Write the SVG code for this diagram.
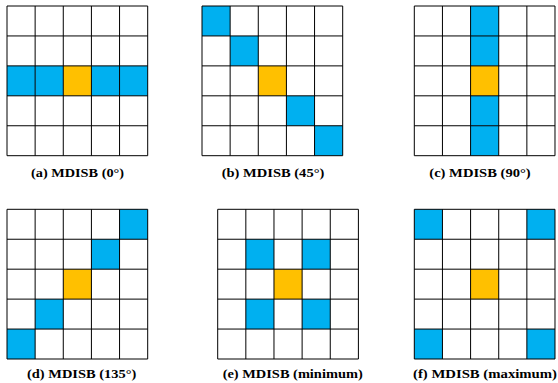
<svg xmlns="http://www.w3.org/2000/svg" xmlns:xlink="http://www.w3.org/1999/xlink" width="558" height="383" viewBox="0 0 558 383">
<style>
.b{fill:#00B0F0}
.o{fill:#FFC000}
.g{fill:none;stroke:#000;stroke-width:1}
.t{font-family:"Liberation Serif","Times New Roman",serif;font-weight:bold;font-size:12px;fill:#000}
</style>
<defs>
<path id="grid" class="g" d="M0,0H140.7V149.7H0Z M28.14,0V149.7 M56.28,0V149.7 M84.42,0V149.7 M112.56,0V149.7 M0,29.94H140.7 M0,59.88H140.7 M0,89.82H140.7 M0,119.76H140.7"/>
<rect id="c" width="28.14" height="29.94"/>
</defs>
<rect width="558" height="383" fill="#fff"/>
<g id="a">
<g transform="translate(7,6)">
<use xlink:href="#c" class="b" x="0" y="59.88"/>
<use xlink:href="#c" class="b" x="28.14" y="59.88"/>
<use xlink:href="#c" class="o" x="56.28" y="59.88"/>
<use xlink:href="#c" class="b" x="84.42" y="59.88"/>
<use xlink:href="#c" class="b" x="112.56" y="59.88"/>
<use xlink:href="#grid"/>
</g>
<text class="t" x="31" y="177" textLength="93" lengthAdjust="spacingAndGlyphs">(a) MDISB (0°)</text>
</g>
<g id="b">
<g transform="translate(202,6)">
<use xlink:href="#c" class="b" x="0" y="0"/>
<use xlink:href="#c" class="b" x="28.14" y="29.94"/>
<use xlink:href="#c" class="o" x="56.28" y="59.88"/>
<use xlink:href="#c" class="b" x="84.42" y="89.82"/>
<use xlink:href="#c" class="b" x="112.56" y="119.76"/>
<use xlink:href="#grid"/>
</g>
<text class="t" x="221.7" y="177" textLength="102.6" lengthAdjust="spacingAndGlyphs">(b) MDISB (45°)</text>
</g>
<g id="c-node">
<g transform="translate(414.3,6)">
<use xlink:href="#c" class="b" x="56.28" y="0"/>
<use xlink:href="#c" class="b" x="56.28" y="29.94"/>
<use xlink:href="#c" class="o" x="56.28" y="59.88"/>
<use xlink:href="#c" class="b" x="56.28" y="89.82"/>
<use xlink:href="#c" class="b" x="56.28" y="119.76"/>
<use xlink:href="#grid"/>
</g>
<text class="t" x="429.3" y="177" textLength="101.4" lengthAdjust="spacingAndGlyphs">(c) MDISB (90°)</text>
</g>
<g id="d">
<g transform="translate(7,209.3)">
<use xlink:href="#c" class="b" x="112.56" y="0"/>
<use xlink:href="#c" class="b" x="84.42" y="29.94"/>
<use xlink:href="#c" class="o" x="56.28" y="59.88"/>
<use xlink:href="#c" class="b" x="28.14" y="89.82"/>
<use xlink:href="#c" class="b" x="0" y="119.76"/>
<use xlink:href="#grid"/>
</g>
<text class="t" x="27" y="378" textLength="109.3" lengthAdjust="spacingAndGlyphs">(d) MDISB (135°)</text>
</g>
<g id="e">
<g transform="translate(217.7,209.3)">
<use xlink:href="#c" class="b" x="28.14" y="29.94"/>
<use xlink:href="#c" class="b" x="84.42" y="29.94"/>
<use xlink:href="#c" class="o" x="56.28" y="59.88"/>
<use xlink:href="#c" class="b" x="28.14" y="89.82"/>
<use xlink:href="#c" class="b" x="84.42" y="89.82"/>
<use xlink:href="#grid"/>
</g>
<text class="t" x="222.7" y="378" textLength="140" lengthAdjust="spacingAndGlyphs">(e) MDISB (minimum)</text>
</g>
<g id="f">
<g transform="translate(414.3,209.3)">
<use xlink:href="#c" class="b" x="0" y="0"/>
<use xlink:href="#c" class="b" x="112.56" y="0"/>
<use xlink:href="#c" class="o" x="56.28" y="59.88"/>
<use xlink:href="#c" class="b" x="0" y="119.76"/>
<use xlink:href="#c" class="b" x="112.56" y="119.76"/>
<use xlink:href="#grid"/>
</g>
<text class="t" x="413" y="378" textLength="144" lengthAdjust="spacingAndGlyphs">(f) MDISB (maximum)</text>
</g>
</svg>
